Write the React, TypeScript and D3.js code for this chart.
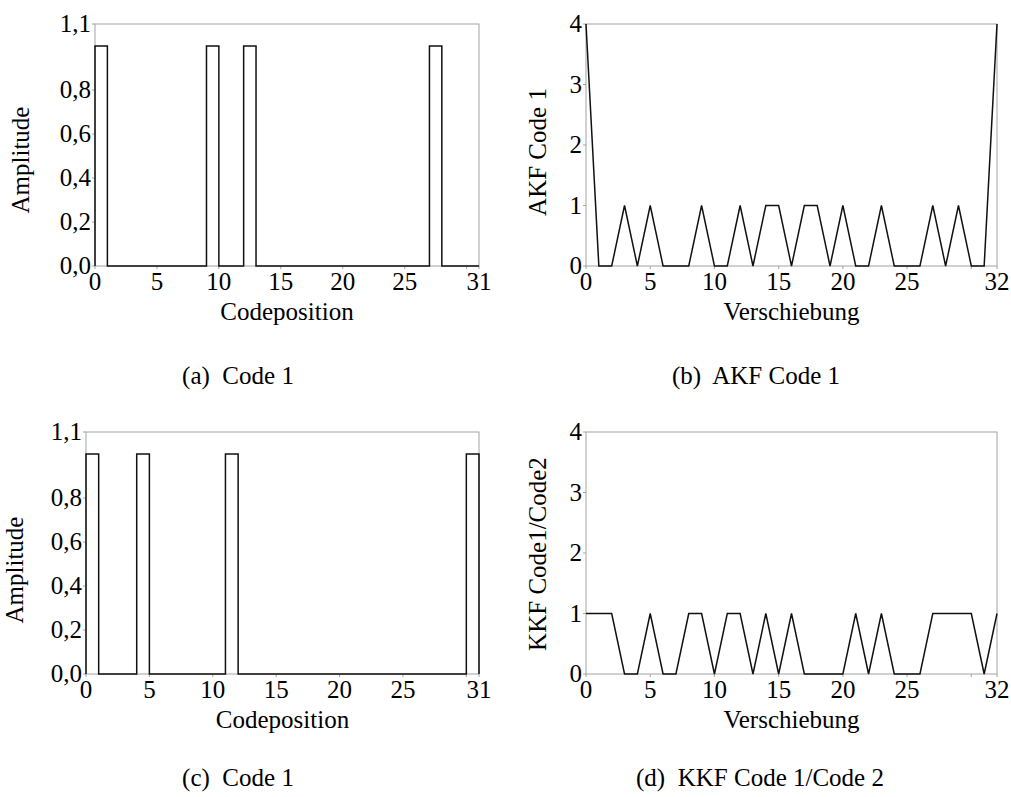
import React from "react";
import * as d3 from "d3";

// Binary codes (one value per code position 0..30)
const code1 = [1,0,0,0,0,0,0,0,0,1,0,0,1,0,0,0,0,0,0,0,0,0,0,0,0,0,0,1,0,0,0];
const code2 = [1,0,0,0,1,0,0,0,0,0,0,1,0,0,0,0,0,0,0,0,0,0,0,0,0,0,0,0,0,0,1];

// Correlation values for shifts 0..32
const akfCode1 = [4,0,0,1,0,1,0,0,0,1,0,0,1,0,1,1,0,1,1,0,1,0,0,1,0,0,0,1,0,1,0,0,4];
const kkfCode1Code2 = [1,1,1,0,0,1,0,0,1,1,0,1,1,0,1,0,1,0,0,0,0,1,0,1,0,0,0,1,1,1,1,0,1];

// Axis ticks and labels
const ampTicks = [0, 0.2, 0.4, 0.6, 0.8, 1.1];
const ampTickLabels = ["0,0", "0,2", "0,4", "0,6", "0,8", "1,1"];
const codeTickMarks = [0, 5, 10, 15, 20, 25, 30, 31];
const codeTickLabels = [0, 5, 10, 15, 20, 25, 31];
const shiftTickMarks = [0, 5, 10, 15, 20, 25, 30, 32];
const shiftTickLabels = [0, 5, 10, 15, 20, 25, 32];
const corrTicks = [0, 1, 2, 3, 4];

const captions = ["(a)  Code 1", "(b)  AKF Code 1", "(c)  Code 1", "(d)  KKF Code 1/Code 2"];

const FONT = "'Liberation Serif', 'Times New Roman', serif";
const FRAME = "#a3a3a3";
const INK = "#111";

type PanelProps = {
  left: number; right: number; top: number; bottom: number;
  xMax: number; yMax: number;
  path: string | null;
  xMarks: number[]; xLabels: number[];
  yTicks: number[]; yLabels: string[];
  xTitle: string; yTitle: string;
  yTitleX: number; yTitleY: number;
  xScale: d3.ScaleLinear<number, number>;
  yScale: d3.ScaleLinear<number, number>;
};

function Panel(p: PanelProps) {
  const { left, right, top, bottom, xScale: x, yScale: y } = p;
  return (
    <g>
      <rect x={left} y={top} width={right - left} height={bottom - top}
        fill="none" stroke={FRAME} strokeWidth={1} />
      {p.xMarks.map((t) => (
        <line key={"xm" + t} x1={x(t)} x2={x(t)} y1={bottom} y2={bottom + 3} stroke={FRAME} />
      ))}
      {p.yTicks.map((t) => (
        <line key={"ym" + t} x1={left - 3} x2={left} y1={y(t)} y2={y(t)} stroke={FRAME} />
      ))}
      {p.path && <path d={p.path} fill="none" stroke={INK} strokeWidth={1.5} strokeLinejoin="miter" />}
      {p.xLabels.map((t) => (
        <text key={"xl" + t} x={x(t)} y={bottom + 24} textAnchor="middle"
          fontFamily={FONT} fontSize={25} fill="#000">{t}</text>
      ))}
      {p.yTicks.map((t, i) => (
        <text key={"yl" + t} x={left - 4} y={y(t)} dy="0.33em" textAnchor="end"
          fontFamily={FONT} fontSize={25} fill="#000">{p.yLabels[i]}</text>
      ))}
      <text x={(left + right) / 2} y={bottom + 54} textAnchor="middle"
        fontFamily={FONT} fontSize={25} fill="#000">{p.xTitle}</text>
      <text transform={`translate(${p.yTitleX},${p.yTitleY}) rotate(-90)`} textAnchor="middle"
        fontFamily={FONT} fontSize={25} fill="#000">{p.yTitle}</text>
    </g>
  );
}

function stepPath(values: number[], x: d3.ScaleLinear<number, number>, y: d3.ScaleLinear<number, number>) {
  const n = values.length;
  const pts: [number, number][] = [[0, 0]];
  values.forEach((v, i) => pts.push([i, v]));
  pts.push([n, values[n - 1]]);
  pts.push([n, 0]);
  return d3.line<[number, number]>()
    .x((d) => x(d[0]))
    .y((d) => y(d[1]))
    .curve(d3.curveStepAfter)(pts);
}

function linePath(values: number[], x: d3.ScaleLinear<number, number>, y: d3.ScaleLinear<number, number>) {
  return d3.line<number>()
    .x((_, i) => x(i))
    .y((d) => y(d))(values);
}

export default function App() {
  const W = 1011, H = 797;

  const boxes = [
    { left: 95, right: 479, top: 24, bottom: 266 },
    { left: 586, right: 997, top: 24, bottom: 266 },
    { left: 86, right: 479, top: 432, bottom: 674 },
    { left: 586, right: 997, top: 432, bottom: 674 },
  ];

  const mk = (i: number, xMax: number, yMax: number) => {
    const b = boxes[i];
    return {
      x: d3.scaleLinear().domain([0, xMax]).range([b.left, b.right]),
      y: d3.scaleLinear().domain([0, yMax]).range([b.bottom, b.top]),
    };
  };
  const sA = mk(0, 31, 1.1);
  const sB = mk(1, 32, 4);
  const sC = mk(2, 31, 1.1);
  const sD = mk(3, 32, 4);

  const captionPos = [
    { x: 238, y: 384 },
    { x: 756, y: 384 },
    { x: 238, y: 786 },
    { x: 760, y: 786 },
  ];

  return (
    <svg width={W} height={H} style={{ position: "absolute", left: 0, top: 0, background: "#fff" }}>
      <rect width={W} height={H} fill="#fff" />
      <Panel {...boxes[0]} xMax={31} yMax={1.1} xScale={sA.x} yScale={sA.y}
        path={stepPath(code1, sA.x, sA.y)}
        xMarks={codeTickMarks} xLabels={codeTickLabels}
        yTicks={ampTicks} yLabels={ampTickLabels}
        xTitle="Codeposition" yTitle="Amplitude" yTitleX={29} yTitleY={160} />
      <Panel {...boxes[1]} xMax={32} yMax={4} xScale={sB.x} yScale={sB.y}
        path={linePath(akfCode1, sB.x, sB.y)}
        xMarks={shiftTickMarks} xLabels={shiftTickLabels}
        yTicks={corrTicks} yLabels={corrTicks.map(String)}
        xTitle="Verschiebung" yTitle="AKF Code 1" yTitleX={546} yTitleY={152} />
      <Panel {...boxes[2]} xMax={31} yMax={1.1} xScale={sC.x} yScale={sC.y}
        path={stepPath(code2, sC.x, sC.y)}
        xMarks={codeTickMarks} xLabels={codeTickLabels}
        yTicks={ampTicks} yLabels={ampTickLabels}
        xTitle="Codeposition" yTitle="Amplitude" yTitleX={23} yTitleY={570} />
      <Panel {...boxes[3]} xMax={32} yMax={4} xScale={sD.x} yScale={sD.y}
        path={linePath(kkfCode1Code2, sD.x, sD.y)}
        xMarks={shiftTickMarks} xLabels={shiftTickLabels}
        yTicks={corrTicks} yLabels={corrTicks.map(String)}
        xTitle="Verschiebung" yTitle="KKF Code1/Code2" yTitleX={546} yTitleY={554} />
      {captions.map((c, i) => (
        <text key={c} x={captionPos[i].x} y={captionPos[i].y} textAnchor="middle"
          fontFamily={FONT} fontSize={25} fill="#000" style={{ whiteSpace: "pre" }}>{c}</text>
      ))}
    </svg>
  );
}
